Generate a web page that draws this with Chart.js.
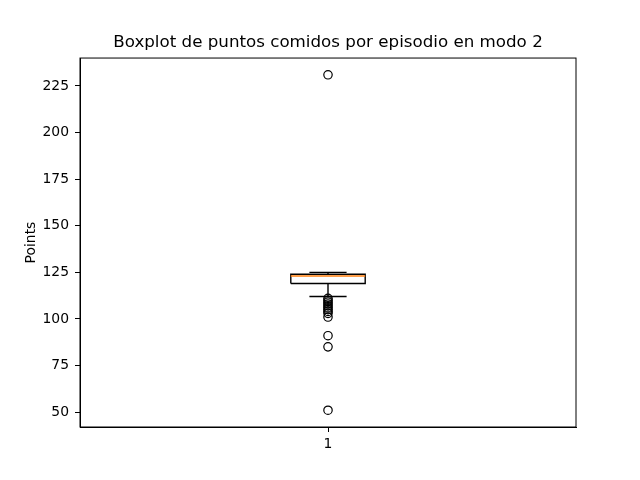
<!DOCTYPE html>
<html><head><meta charset="utf-8">
<script src="https://cdn.jsdelivr.net/npm/chart.js@4"></script>
<style>html,body{margin:0;padding:0;background:#fff}canvas{display:block}</style>
</head><body>
<canvas id="c" width="640" height="480"></canvas>
<script>
const categories = ['1'];
const q1 = [119];
const medians = [123];
const q3 = [124];
const whiskerLow = [112];
const whiskerHigh = [125];
const outliers = [[231, 111, 110, 109, 108, 107, 106, 105, 104, 103, 101, 91, 85, 51]];
const yTicks = [50, 75, 100, 125, 150, 175, 200, 225];

const BOX_HALF = 0.075, CAP_HALF = 0.0375;
const FONT = "'DejaVu Sans', sans-serif";
Chart.defaults.color = '#000';
Chart.defaults.font.family = FONT;

const lineDs = (pts, color, w) => ({
  type: 'line', data: pts, borderColor: color, borderWidth: w,
  pointRadius: 0, fill: false, tension: 0, clip: false
});

const datasets = [];
categories.forEach((c, i) => {
  const x = i + 1;
  datasets.push(lineDs([{x: x - BOX_HALF, y: medians[i]}, {x: x + BOX_HALF, y: medians[i]}], '#ff7f0e', 1.4));
  datasets.push(lineDs([
    {x: x - BOX_HALF, y: q1[i]}, {x: x + BOX_HALF, y: q1[i]},
    {x: x + BOX_HALF, y: q3[i]}, {x: x - BOX_HALF, y: q3[i]},
    {x: x - BOX_HALF, y: q1[i]}], '#000', 1.4));
  datasets.push(lineDs([{x: x, y: q3[i]}, {x: x, y: whiskerHigh[i]}], '#000', 1.4));
  datasets.push(lineDs([{x: x, y: q1[i]}, {x: x, y: whiskerLow[i]}], '#000', 1.4));
  datasets.push(lineDs([{x: x - CAP_HALF, y: whiskerHigh[i]}, {x: x + CAP_HALF, y: whiskerHigh[i]}], '#000', 1.4));
  datasets.push(lineDs([{x: x - CAP_HALF, y: whiskerLow[i]}, {x: x + CAP_HALF, y: whiskerLow[i]}], '#000', 1.4));
  datasets.push({
    type: 'scatter', data: outliers[i].map(v => ({x: x, y: v})),
    pointStyle: 'circle', pointRadius: 4.2, borderWidth: 1.2,
    borderColor: '#000', backgroundColor: 'rgba(0,0,0,0)', showLine: false, clip: false
  });
});

const frame = {
  id: 'frame',
  afterDraw(chart) {
    const {ctx, chartArea: a} = chart;
    ctx.save();
    ctx.strokeStyle = '#000';
    ctx.lineWidth = 1;
    ctx.strokeRect(a.left, a.top, a.right - a.left, a.bottom - a.top);
    ctx.restore();
  }
};

new Chart(document.getElementById('c'), {
  type: 'scatter',
  data: { datasets },
  options: {
    responsive: false, animation: false, devicePixelRatio: 1,
    layout: { padding: { left: 0, right: 64, top: 0, bottom: 0 } },
    plugins: {
      legend: { display: false },
      tooltip: { enabled: false },
      title: {
        display: true, text: 'Boxplot de puntos comidos por episodio en modo 2',
        fullSize: false, color: '#000',
        font: { family: FONT, size: 16.7, weight: 'normal' },
        padding: { top: 33, bottom: 5 }
      }
    },
    scales: {
      x: {
        type: 'linear', min: 0.5, max: 1.5,
        afterBuildTicks: s => { s.ticks = categories.map((c, i) => ({value: i + 1})); },
        afterFit: s => { s.height = 53; },
        ticks: { callback: v => categories[v - 1] ?? '', font: { family: FONT, size: 13.9 }, padding: 4, maxRotation: 0 },
        grid: { drawOnChartArea: false, drawTicks: true, tickLength: 5, color: '#000' },
        border: { display: true, color: '#000', width: 1 }
      },
      y: {
        type: 'linear', min: 42, max: 240,
        afterBuildTicks: s => { s.ticks = yTicks.map(v => ({value: v})); },
        afterFit: s => { s.width = 80; },
        ticks: { font: { family: FONT, size: 13.9 }, padding: 6 },
        grid: { drawOnChartArea: false, drawTicks: true, tickLength: 5, color: '#000' },
        border: { display: true, color: '#000', width: 1 },
        title: { display: true, text: 'Points', font: { family: FONT, size: 13.9 }, padding: { top: 23, bottom: 0 } }
      }
    }
  },
  plugins: [frame]
});
</script>
</body></html>
